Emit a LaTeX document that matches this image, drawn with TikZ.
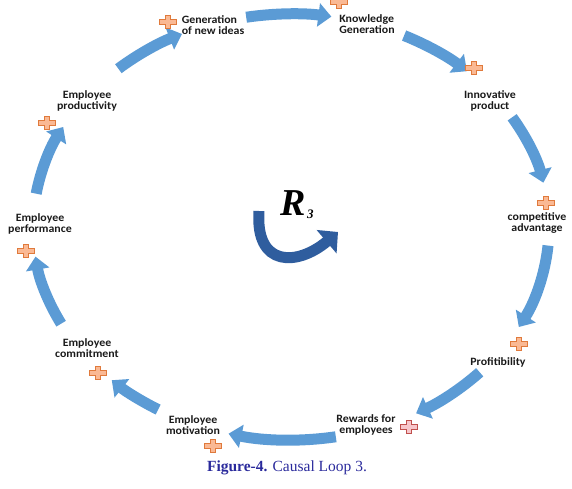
\documentclass[tikz,border=0pt]{standalone}
\usepackage{fontspec}
\usepackage{xcolor}
\usepackage{tikz}
\usetikzlibrary{calc,arrows.meta}
\newfontfamily\lblfont[FakeStretch=1.06]{Carlito}
\newfontfamily\capfont{Liberation Serif}
\definecolor{loopc}{HTML}{5B9BD5}
\definecolor{plusf}{HTML}{FAB994}
\definecolor{plusl}{HTML}{E07A3C}
\definecolor{pinkf}{HTML}{F7C6CB}
\definecolor{pinkl}{HTML}{C0504D}
\definecolor{rloop}{HTML}{2F5D9E}
\definecolor{capc}{HTML}{2A2A9C}
\definecolor{txtc}{HTML}{1A1A1A}
\tikzset{
  lbl/.style={font=\lblfont\bfseries\fontsize{11.2}{11.5}\selectfont,text=txtc,align=center,inner sep=1pt},
  flow/.style={-{Triangle[width=23pt,length=13pt]},line width=11pt,loopc},
  ring/.style={x radius=258pt,y radius=213pt},
  plusmark/.style={fill=plusf,draw=plusl,line width=0.7pt},
  plusred/.style={fill=pinkf,draw=pinkl,line width=0.7pt},
  rarrow/.style={-{Triangle[width=30pt,length=15pt]},line width=11pt,rloop},
  capt/.style={font=\capfont\fontsize{15.5}{17}\selectfont,text=capc}
}
\newcommand{\plusat}[2][plusmark]{\filldraw[#1,shift={(#2)}] (-2.7,6.5)--(2.7,6.5)--(2.7,2.7)--(8.5,2.7)--(8.5,-2.7)--(2.7,-2.7)--(2.7,-6.5)--(-2.7,-6.5)--(-2.7,-2.7)--(-8.5,-2.7)--(-8.5,2.7)--(-2.7,2.7)--cycle;}

\begin{document}
\begin{tikzpicture}[x=1pt,y=1pt]
\useasboundingbox (0,0) rectangle (572,488);
\coordinate (c) at (291,261);
\node[lbl,align=left] (gen) at (213,463) {Generation\\of new ideas};
\node[lbl,align=left] (know) at (367,464) {Knowledge\\Generation};
\node[lbl] (innov) at (490,387) {Innovative\\product};
\node[lbl] (comp) at (537,265) {competitive\\advantage};
\node[lbl] (prof) at (498,126) {Profitibility};
\node[lbl] (rew) at (366,63) {Rewards for\\employees};
\node[lbl] (motiv) at (193,63) {Employee\\motivation};
\node[lbl] (commit) at (87,140) {Employee\\commitment};
\node[lbl] (perf) at (40,264) {Employee\\performance};
\node[lbl] (prod) at (87,387) {Employee\\productivity};
\draw[flow] ($(c)+(132:258pt and 213pt)$) arc[ring,start angle=132,end angle=115];
\draw[flow] ($(c)+(100:258pt and 213pt)$) arc[ring,start angle=100,end angle=81];
\draw[flow] ($(c)+(64:258pt and 213pt)$) arc[ring,start angle=64,end angle=47];
\draw[flow] ($(c)+(31:258pt and 213pt)$) arc[ring,start angle=31,end angle=12];
\draw[flow] ($(c)+(-5:258pt and 213pt)$) arc[ring,start angle=-5,end angle=-28];
\draw[flow] ($(c)+(-43:258pt and 213pt)$) arc[ring,start angle=-43,end angle=-61];
\draw[flow] ($(c)+(-80:258pt and 213pt)$) arc[ring,start angle=-80,end angle=-104];
\draw[flow] ($(c)+(-121:258pt and 213pt)$) arc[ring,start angle=-121,end angle=-134];
\draw[flow] ($(c)+(-153:258pt and 213pt)$) arc[ring,start angle=-153,end angle=-172];
\draw[flow] ($(c)+(171:258pt and 213pt)$) arc[ring,start angle=171,end angle=152];
\plusat{168,466}
\plusat{339,486}
\plusat{474,420}
\plusat{546,285}
\plusat{519,144}
\plusat[plusred]{409,61}
\plusat{213,42}
\plusat{98,115}
\plusat{26,237}
\plusat{47,365}
\draw[rarrow] (259,277) .. controls (255,220) and (298,222) .. (338,256);
\node[font=\capfont\bfseries\itshape\fontsize{38}{38}\selectfont,anchor=base west,inner sep=0pt] (rthree) at (280,273) {R\kern1.5pt\raisebox{-3pt}{\fontsize{13}{13}\selectfont 3}};
\node[capt] (fig) at (287,20) {\textbf{Figure-4.} Causal Loop 3.};
\end{tikzpicture}
\end{document}
